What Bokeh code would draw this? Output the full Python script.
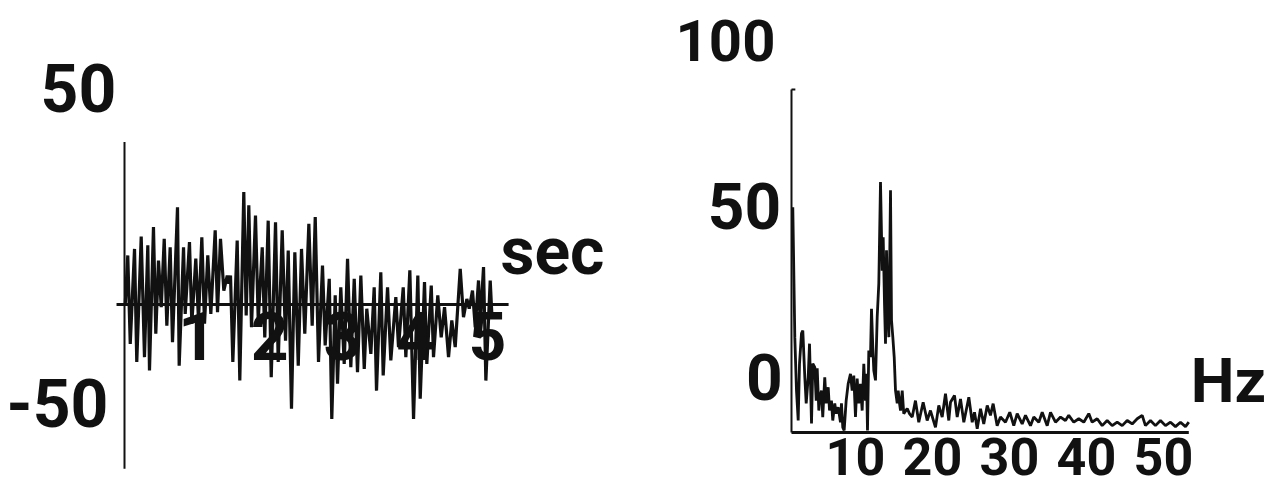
from bokeh.plotting import figure
from bokeh.models import Range1d
from bokeh.layouts import row
from bokeh.embed import file_html
from bokeh.resources import INLINE
from bokeh.core.properties import value

# ---------------- data ----------------
# Left panel: time signal (seconds, amplitude)
t_sec = [0.010, 0.045, 0.079, 0.138, 0.169, 0.230, 0.275, 0.321, 0.344, 0.399,
         0.431, 0.468, 0.506, 0.547, 0.583, 0.629, 0.661, 0.730, 0.753, 0.813,
         0.836, 0.895, 0.927, 0.982, 1.019, 1.065, 1.102, 1.147, 1.189, 1.249,
         1.281, 1.322, 1.368, 1.415, 1.437, 1.460, 1.492, 1.552, 1.588, 1.643,
         1.676, 1.712, 1.749, 1.804, 1.842, 1.897, 1.932, 1.979, 2.021, 2.080,
         2.117, 2.172, 2.218, 2.255, 2.300, 2.346, 2.393, 2.438, 2.483, 2.539,
         2.585, 2.627, 2.672, 2.727, 2.764, 2.820, 2.855, 2.902, 2.934, 2.979,
         3.026, 3.072, 3.117, 3.164, 3.209, 3.255, 3.302, 3.337, 3.393, 3.439,
         3.471, 3.530, 3.563, 3.623, 3.668, 3.737, 3.774, 3.839, 3.875, 3.930,
         3.981, 4.040, 4.073, 4.132, 4.164, 4.225, 4.256, 4.315, 4.362, 4.408,
         4.463, 4.508, 4.555, 4.624, 4.669, 4.715, 4.748, 4.793, 4.831, 4.876,
         4.900, 4.945, 4.977, 5.037, 5.059]
amp = [0, 15.1, -12.1, 17.1, -17.7, 20.9, -16.2, 18.2, -20.3, 23.8,
       -9.0, 13.5, -0.8, 20.2, -6.5, 17.6, -11.6, 29.9, -18.8, 17.6,
       -2.9, 19.2, -5.9, 14.1, -4.9, 20.7, -5.9, 15.1, -2.9, 22.8,
       -2.4, 20.2, 4.3, 8.9, 6.4, 8.9, -17.7, 19.7, -23.4, 34.6,
       -3.4, 30.5, -7.0, 27.4, -4.9, 17.6, -10.1, 25.8, -22.4, 25.3,
       -17.7, 22.8, -11.1, 16.6, -32.1, 16.1, -18.8, 17.1, -9.0, 24.8,
       -6.5, 26.9, -17.7, 12.0, -12.6, 7.9, -35.2, 2.8, -24.4, 5.3,
       -18.3, 14.1, -19.3, 7.9, -20.8, 8.9, -19.8, -1.3, -15.2, 5.3,
       -26.5, 9.9, -21.8, 5.3, -17.2, 2.3, -13.1, 5.3, -16.2, 10.5,
       -35.2, 8.9, -29.0, 6.9, -18.3, 5.8, -16.2, 2.8, -10.1, -0.8,
       -16.2, -4.9, -13.1, 11.0, -3.9, 1.7, -1.3, 4.3, -7.0, 7.4,
       -5.9, 11.5, -23.4, 7.4, -2.9]

# Right panel: spectrum (Hz, power)
freq_hz = [0.17, 0.43, 0.65, 0.87, 1.04, 1.30, 1.47, 1.73, 1.91, 2.17,
           2.34, 2.47, 2.60, 2.77, 3.03, 3.21, 3.34, 3.55, 3.68, 3.90,
           4.06, 4.32, 4.51, 4.77, 4.94, 5.19, 5.36, 5.62, 5.81, 6.06,
           6.36, 6.49, 6.66, 6.84, 7.10, 7.36, 7.66, 7.88, 8.09, 8.31,
           8.53, 8.74, 8.96, 9.18, 9.39, 9.61, 9.74, 9.87, 10.04, 10.26,
           10.39, 10.56, 10.69, 10.91, 11.13, 11.34, 11.56, 11.78, 11.91, 12.08,
           12.21, 12.34, 12.51, 12.64, 12.86, 12.99, 13.16, 13.34, 13.51, 13.73,
           13.86, 14.03, 14.16, 14.38, 14.58, 15.03, 15.32, 15.68, 16.10, 16.53,
           17.10, 17.62, 18.05, 18.70, 19.13, 19.57, 20.00, 20.43, 20.65, 21.17,
           21.52, 21.95, 22.38, 23.03, 23.47, 23.77, 24.12, 24.55, 24.97, 25.42,
           25.84, 26.19, 26.71, 27.14, 27.79, 28.35, 28.87, 29.31, 29.96, 30.39,
           31.04, 31.47, 32.12, 32.56, 33.21, 33.64, 34.29, 34.94, 35.58, 36.01,
           36.66, 37.31, 37.96, 38.61, 39.05, 39.70, 40.35, 41.00, 41.65, 42.30,
           42.95, 43.60, 44.25, 44.90, 45.55, 45.97, 46.62, 47.27, 47.92, 48.57,
           49.22, 49.87, 50.52, 51.17, 51.60]
power = [65.7, 27.8, 12.2, 3.5, 20.0, 28.9, 29.7, 16.1, 8.5, 16.1,
         25.9, 14.3, 2.6, 20.1, 19.0, 9.3, 18.7, 6.4, 10.3, 12.2,
         4.5, 16.1, 8.5, 13.2, 6.4, 9.3, 3.5, 8.5, 5.5, 7.4,
         3.0, 8.5, 1.5, 0.6, 9.3, 14.2, 17.1, 12.2, 16.6, 4.5,
         15.7, 8.5, 14.2, 6.4, 20.0, 9.3, 17.1, 0.6, 23.9, 22.0,
         36.1, 24.9, 18.1, 15.2, 33.6, 43.4, 73.0, 47.2, 56.9, 37.5,
         25.9, 53.1, 34.6, 27.8, 70.6, 32.7, 27.8, 22.0, 12.2, 8.5,
         12.2, 8.5, 6.4, 12.2, 5.5, 7.0, 5.5, 4.5, 9.3, 3.0,
         8.8, 3.5, 6.4, 1.5, 7.9, 4.5, 11.3, 3.5, 8.8, 10.8,
         4.5, 9.8, 3.0, 10.3, 3.0, 5.9, 1.1, 6.9, 2.5, 7.9,
         5.0, 8.4, 2.0, 4.5, 3.0, 5.9, 2.0, 5.5, 2.5, 5.0,
         2.0, 4.5, 3.0, 5.9, 2.0, 5.9, 3.0, 4.5, 3.5, 5.0,
         3.0, 4.0, 3.0, 5.5, 3.0, 4.0, 2.0, 3.5, 2.0, 3.0,
         2.0, 3.5, 2.5, 4.0, 5.0, 2.0, 3.5, 2.0, 3.5, 2.0,
         3.0, 1.7, 3.0, 1.7, 3.0]

# tick labels
time_ticks = [1, 2, 3, 4, 5]
time_tick_labels = ["1", "2", "3", "4", "5"]
amp_tick_labels = ["50", "-50"]
freq_ticks = [10, 20, 30, 40, 50]
freq_tick_labels = ["10", "20", "30", "40", "50"]
power_tick_labels = ["100", "50", "0"]
time_unit = "sec"
freq_unit = "Hz"

# ---------------- styling ----------------
FONT = value("Roboto")
INK = "#111111"


def bare_fig(w, h, xr, yr):
    p = figure(width=w, height=h, x_range=Range1d(*xr), y_range=Range1d(*yr),
               output_backend="svg", toolbar_location=None,
               x_axis_location=None, y_axis_location=None, min_border=0)
    p.grid.visible = False
    p.outline_line_color = None
    p.background_fill_color = "white"
    p.border_fill_color = "white"
    return p


def label(p, xs, ys, texts, size, align="center"):
    p.text(x=xs, y=ys, text=texts, text_font=FONT, text_font_style="bold",
           text_font_size=size, text_align=align, text_baseline="alphabetic",
           text_color=INK)


# ---------------- left: time signal ----------------
left = bare_fig(640, 489, (-1.708, 7.107), (-56.92, 93.54))
left.segment(x0=[0], y0=[50], x1=[0], y1=[-50.5], line_color=INK, line_width=2)
left.segment(x0=[-0.11], y0=[0], x1=[5.29], y1=[0], line_color=INK, line_width=3)
left.line(t_sec, amp, line_color=INK, line_width=3.2)
label(left, [-0.634, -0.923], [66.5, -30.2], amp_tick_labels, "66px")
label(left, time_ticks, [-9.8] * len(time_ticks), time_tick_labels, "66px")
label(left, [5.895], [16.3], [time_unit], "66px")

# ---------------- right: spectrum ----------------
right = bare_fig(634, 489, (-19.61, 62.73), (-16.62, 125.95))
right.segment(x0=[0], y0=[0], x1=[0], y1=[100], line_color=INK, line_width=2)
right.segment(x0=[0], y0=[100], x1=[0.5], y1=[100], line_color=INK, line_width=2)
right.segment(x0=[0], y0=[0], x1=[51.6], y1=[0], line_color=INK, line_width=3)
right.line(freq_hz, power, line_color=INK, line_width=2.8)
label(right, [-8.57], [114.4], power_tick_labels[:1], "58px")
label(right, [-6.10, -3.51], [65.9, 16.1], power_tick_labels[1:], "64px")
label(right, [f - 1.7 for f in freq_ticks], [-7.0] * len(freq_ticks), freq_tick_labels, "52px")
label(right, [56.75], [15.2], [freq_unit], "62px")

layout = row(left, right)
open("out.html", "w").write(file_html(layout, INLINE))
